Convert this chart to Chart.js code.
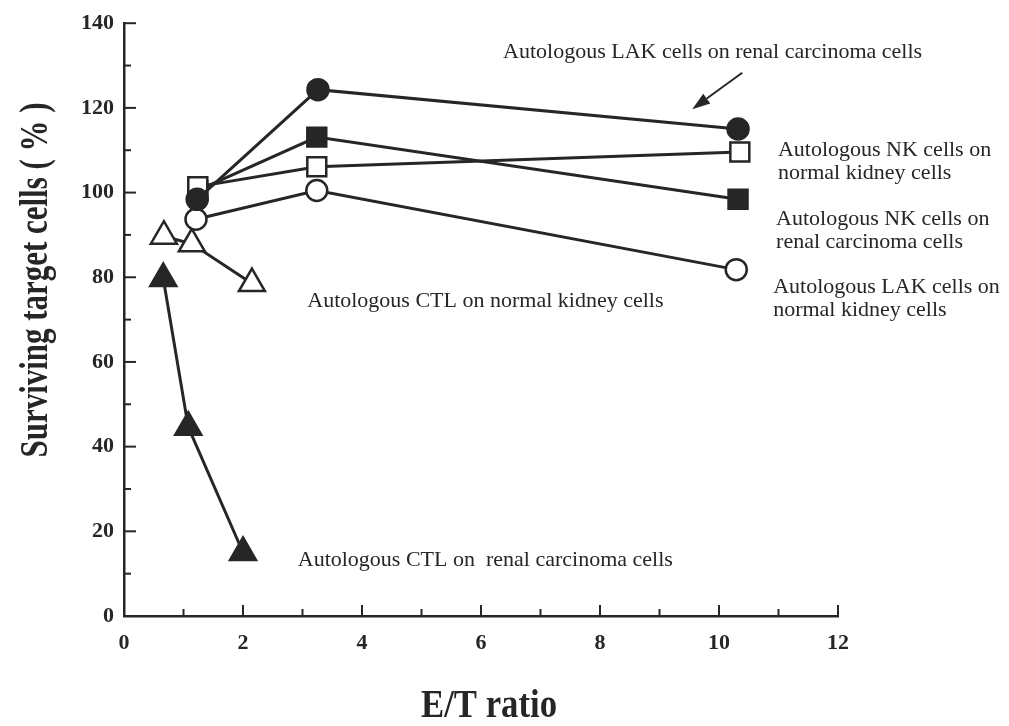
<!DOCTYPE html>
<html>
<head>
<meta charset="utf-8">
<title>Surviving target cells vs E/T ratio</title>
<script src="https://cdn.jsdelivr.net/npm/chart.js@4.4.0/dist/chart.umd.min.js"></script>
<style>
  html, body { margin: 0; padding: 0; background: #fff; }
</style>
</head>
<body>
<canvas id="etChart" width="1009" height="726"></canvas>
<script>
const INK = '#262626';
const SERIF = "'Liberation Serif', 'DejaVu Serif', serif";

// values: E/T ratio (x) and surviving target cells % (y)
const lakRenalX = [1.23, 3.26, 10.32];
const lakRenalY = [98.4, 124.3, 115.0];
const nkNormalX = [1.24, 3.24, 10.35];
const nkNormalY = [101.4, 106.1, 109.6];
const nkRenalX = [1.24, 3.24, 10.32];
const nkRenalY = [100.5, 113.1, 98.4];
const lakNormalX = [1.21, 3.24, 10.29];
const lakNormalY = [93.7, 100.5, 81.8];
const ctlNormalX = [0.67, 1.14, 2.15];
const ctlNormalY = [89.7, 87.9, 78.5];
const ctlRenalX = [0.66, 1.08, 2.0];
const ctlRenalY = [79.7, 44.6, 15.0];

// axis ranges / ticks
const xTickLabels = [0, 2, 4, 6, 8, 10, 12];
const yTickLabels = [0, 20, 40, 60, 80, 100, 120, 140];
const xMinorStep = 1;
const yMinorStep = 10;

// text notes placed in data units
const notes = [
    { lines: ['Autologous LAK cells on renal carcinoma cells'], x: 6.37, y: 133.2 },
    { lines: ['Autologous NK cells on', 'normal kidney cells'], x: 10.99, y: 110.1 },
    { lines: ['Autologous NK cells on', 'renal carcinoma cells'], x: 10.96, y: 93.7 },
    { lines: ['Autologous LAK cells on', 'normal kidney cells'], x: 10.91, y: 77.6 },
    { lines: ['Autologous CTL on normal kidney cells'], x: 3.08, y: 74.3 },
    { lines: ['Autologous CTL on  renal carcinoma cells'], x: 2.92, y: 13.1 }
];
const arrowFrom = [10.39, 128.3];
const arrowTo = [9.55, 119.7];

function toPoints(xs, ys) {
    return xs.map((x, i) => ({ x: x, y: ys[i] }));
}

function series(label, xs, ys, style, filled, radius, order) {
    return {
        label: label,
        data: toPoints(xs, ys),
        showLine: true,
        borderColor: INK,
        borderWidth: 3,
        pointStyle: style,
        pointRadius: radius,
        pointHoverRadius: radius,
        pointBackgroundColor: filled ? INK : '#ffffff',
        pointBorderColor: INK,
        pointBorderWidth: 2.5,
        clip: false,
        order: order
    };
}

function squeezedText(ctx, text, x, y, font, width, vertical) {
    ctx.save();
    ctx.font = font;
    const w = ctx.measureText(text).width;
    ctx.translate(x, y);
    if (vertical) ctx.rotate(-Math.PI / 2);
    ctx.scale(width / w, 1);
    ctx.textAlign = 'center';
    ctx.textBaseline = 'middle';
    ctx.fillStyle = INK;
    ctx.fillText(text, 0, 0);
    ctx.restore();
}

const decor = {
    id: 'decor',
    afterDraw(chart) {
        const ctx = chart.ctx;
        const xs = chart.scales.x, ys = chart.scales.y;
        ctx.save();
        ctx.strokeStyle = INK;
        ctx.lineWidth = 2;
        // inward tick marks
        for (let v = xMinorStep; v <= xs.max; v += xMinorStep) {
            const px = xs.getPixelForValue(v);
            const len = v % 2 === 0 ? 11 : 7;
            ctx.beginPath();
            ctx.moveTo(px, ys.bottom);
            ctx.lineTo(px, ys.bottom - len);
            ctx.stroke();
        }
        for (let v = yMinorStep; v <= ys.max; v += yMinorStep) {
            const py = ys.getPixelForValue(v);
            const len = v % 20 === 0 ? 12 : 7;
            ctx.beginPath();
            ctx.moveTo(xs.left, py);
            ctx.lineTo(xs.left + len, py);
            ctx.stroke();
        }

        // axis titles
        squeezedText(ctx, 'Surviving target cells ( % )', 37, 280, 'bold 40px ' + SERIF, 355, true);
        squeezedText(ctx, 'E/T ratio', 489, 707, 'bold 40px ' + SERIF, 136, false);

        // notes
        ctx.fillStyle = INK;
        ctx.font = '22px ' + SERIF;
        ctx.textAlign = 'left';
        ctx.textBaseline = 'middle';
        notes.forEach(n => {
            const px = xs.getPixelForValue(n.x);
            const py = ys.getPixelForValue(n.y);
            n.lines.forEach((t, i) => ctx.fillText(t, px, py + i * 23));
        });

        // arrow
        const x1 = xs.getPixelForValue(arrowFrom[0]), y1 = ys.getPixelForValue(arrowFrom[1]);
        const x2 = xs.getPixelForValue(arrowTo[0]), y2 = ys.getPixelForValue(arrowTo[1]);
        const ang = Math.atan2(y2 - y1, x2 - x1);
        const head = 18, half = 6;
        const bx = x2 - Math.cos(ang) * head, by = y2 - Math.sin(ang) * head;
        ctx.lineWidth = 2;
        ctx.beginPath();
        ctx.moveTo(x1, y1);
        ctx.lineTo(bx, by);
        ctx.stroke();
        ctx.beginPath();
        ctx.moveTo(x2, y2);
        ctx.lineTo(bx - Math.sin(ang) * half, by + Math.cos(ang) * half);
        ctx.lineTo(bx + Math.sin(ang) * half, by - Math.cos(ang) * half);
        ctx.closePath();
        ctx.fill();
        ctx.restore();
    }
};

function initializeChart() {
    const el = document.getElementById('etChart');
    new Chart(el, {
        type: 'scatter',
        data: {
            datasets: [
                series('Autologous LAK cells on renal carcinoma cells', lakRenalX, lakRenalY, 'circle', true, 10.5, 1),
                series('Autologous NK cells on normal kidney cells', nkNormalX, nkNormalY, 'rect', false, 13.4, 3),
                series('Autologous NK cells on renal carcinoma cells', nkRenalX, nkRenalY, 'rect', true, 13.4, 4),
                series('Autologous LAK cells on normal kidney cells', lakNormalX, lakNormalY, 'circle', false, 10.5, 2),
                series('Autologous CTL on normal kidney cells', ctlNormalX, ctlNormalY, 'triangle', false, 15, 5),
                series('Autologous CTL on renal carcinoma cells', ctlRenalX, ctlRenalY, 'triangle', true, 15, 6)
            ]
        },
        options: {
            responsive: false,
            animation: false,
            layout: { padding: { top: 17, right: 171, left: 0, bottom: 0 } },
            plugins: {
                legend: { display: false },
                tooltip: { enabled: false }
            },
            scales: {
                x: {
                    type: 'linear',
                    min: xTickLabels[0],
                    max: xTickLabels[xTickLabels.length - 1],
                    afterBuildTicks: s => { s.ticks = xTickLabels.map(v => ({ value: v })); },
                    afterFit: s => { s.height = 110; },
                    ticks: {
                        color: INK,
                        padding: 14,
                        maxRotation: 0,
                        font: { family: SERIF, size: 22, weight: 'bold' }
                    },
                    grid: { drawOnChartArea: false, drawTicks: false },
                    border: { display: true, color: INK, width: 2.5 }
                },
                y: {
                    type: 'linear',
                    min: yTickLabels[0],
                    max: yTickLabels[yTickLabels.length - 1],
                    afterBuildTicks: s => { s.ticks = yTickLabels.map(v => ({ value: v })); },
                    afterFit: s => { s.width = 124; },
                    ticks: {
                        color: INK,
                        padding: 10,
                        font: { family: SERIF, size: 22, weight: 'bold' }
                    },
                    grid: { drawOnChartArea: false, drawTicks: false },
                    border: { display: true, color: INK, width: 2.5 }
                }
            }
        },
        plugins: [decor]
    });
}

if (document.readyState === 'loading') {
    document.addEventListener('DOMContentLoaded', initializeChart);
} else {
    initializeChart();
}
</script>
</body>
</html>
